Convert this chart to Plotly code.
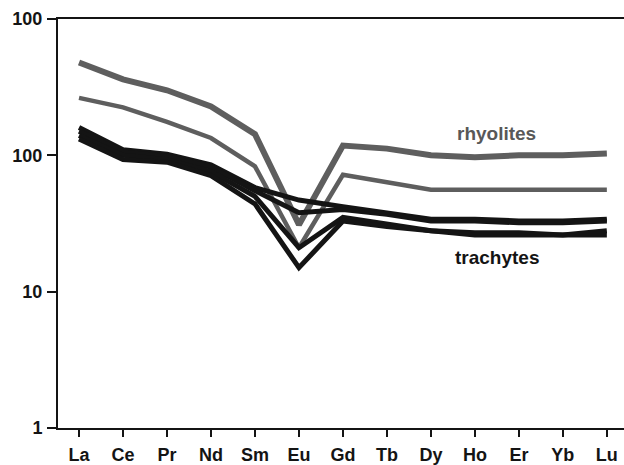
import plotly.graph_objects as go

# Chondrite-normalised REE patterns
elements = ["La", "Ce", "Pr", "Nd", "Sm", "Eu", "Gd", "Tb", "Dy", "Ho", "Er", "Yb", "Lu"]

rhyolite_a = [480, 361, 300, 228, 143, 31, 118, 112, 100, 97, 100, 100, 103]
rhyolite_b = [264, 225, 176, 134, 83, 21, 72, 63, 56, 56, 56, 56, 56]

trachyte_a = [160, 110, 102, 85, 58, 47, 42, 38, 34, 34, 33, 33, 34]
trachyte_b = [150, 106, 98, 82, 55, 38, 40, 37, 33, 33, 32, 32, 33]
trachyte_c = [140, 100, 93, 76, 50, 21, 35, 31, 28, 27, 27, 26, 28]
trachyte_d = [132, 93, 89, 71, 44, 15, 33, 30, 28, 26, 26, 26, 26]

y_tickvals = [1, 10, 100, 1000]
y_ticktext = ["1", "10", "100", "100"]

GREY = "#5e5e5e"
BLACK = "#141414"
FONT = "Liberation Sans, Arial, Helvetica, sans-serif"

fig = go.Figure()

for ys, w in [(rhyolite_a, 6), (rhyolite_b, 4.5)]:
    fig.add_trace(go.Scatter(x=elements, y=ys, mode="lines",
                             line=dict(color=GREY, width=w),
                             showlegend=False, hoverinfo="skip"))

for ys in [trachyte_a, trachyte_b, trachyte_c, trachyte_d]:
    fig.add_trace(go.Scatter(x=elements, y=ys, mode="lines",
                             line=dict(color=BLACK, width=5),
                             showlegend=False, hoverinfo="skip"))

fig.add_annotation(x=9.5, y=2.159, xref="x", yref="y", text="<b>rhyolites</b>",
                   showarrow=False, font=dict(family=FONT, size=19, color="#585858"))
fig.add_annotation(x=9.52, y=1.252, xref="x", yref="y", text="<b>trachytes</b>",
                   showarrow=False, font=dict(family=FONT, size=19, color=BLACK))

fig.update_layout(
    width=624, height=465,
    margin=dict(l=58, r=0, t=19, b=32),
    paper_bgcolor="white", plot_bgcolor="white",
    font=dict(family=FONT, size=18, color=BLACK),
    xaxis=dict(
        type="category", range=[-0.478, 12.39],
        showgrid=False, zeroline=False,
        showline=True, linecolor=BLACK, linewidth=2, mirror=True,
        ticks="outside", ticklen=7, tickwidth=1.5, tickcolor=BLACK,
        tickfont=dict(family=FONT, size=18, color=BLACK, weight="bold"),
        ticklabelstandoff=2,
    ),
    yaxis=dict(
        type="log", range=[0, 3],
        tickvals=y_tickvals, ticktext=y_ticktext,
        showgrid=False, zeroline=False,
        showline=True, linecolor=BLACK, linewidth=2,
        ticks="outside", ticklen=9, tickwidth=1.5, tickcolor=BLACK,
        tickfont=dict(family=FONT, size=18, color=BLACK, weight="bold"),
        ticklabelstandoff=1,
    ),
)

fig.write_html("out.html")
